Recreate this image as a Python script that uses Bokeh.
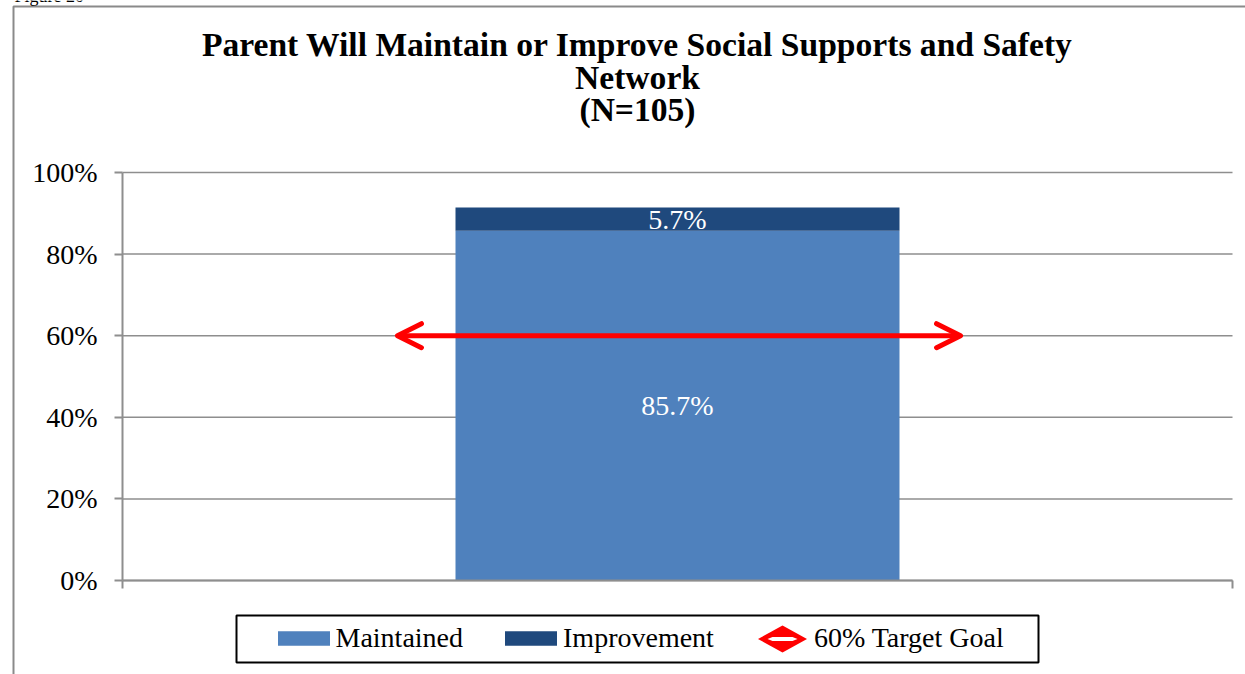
from bokeh.plotting import figure
from bokeh.models import (ColumnDataSource, Range1d, FixedTicker, Legend, LegendItem,
                          Arrow, OpenHead, Label, BoxAnnotation, PolyAnnotation)
from bokeh.embed import file_html
from bokeh.resources import INLINE
from bokeh.core.properties import value

# ---- data ----
title_lines = ["Parent Will Maintain or Improve Social Supports and Safety", "Network", "(N=105)"]
figure_caption = "Figure 20"
categories = ["Social Supports and Safety Network"]
series_names = ["Maintained", "Improvement"]
maintained = [85.7]
improvement = [5.7]
target_value = [60]
target_label = "60% Target Goal"
y_ticks = [0, 20, 40, 60, 80, 100]
y_tick_labels = ["0%", "20%", "40%", "60%", "80%", "100%"]
colors = ["#4F81BD", "#1F497D"]

SERIF = "Liberation Serif"
GRAY = "#8e8e8e"

# ---- layout (canvas px) ----
W, H = 1245, 674
PL, PT, PR, PB = 122, 172, 1232, 580   # plot area inside the chart
n = len(categories)
ppx = (PR - PL) / n          # px per category unit
ppy = (PB - PT) / 100.0      # px per percent

x_range = Range1d(-PL / ppx, n + (W - PR) / ppx)
y_range = Range1d(-(H - PB) / ppy, 100 + PT / ppy)

p = figure(width=W, height=H, x_range=x_range, y_range=y_range,
           output_backend="svg", toolbar_location=None, title=None,
           min_border=0, min_border_left=0, min_border_right=0, min_border_top=0, min_border_bottom=0)
p.background_fill_color = "white"
p.border_fill_color = "white"
p.outline_line_color = None
p.xgrid.visible = False
p.ygrid.visible = False

# gridlines at the y ticks across the plot area
gsrc = ColumnDataSource(dict(y=y_ticks, x0=[0] * len(y_ticks), x1=[n] * len(y_ticks)))
p.segment(x0="x0", x1="x1", y0="y", y1="y", source=gsrc, line_color=GRAY, line_width=1.5)

x = [i + 0.5 for i in range(n)]
src = ColumnDataSource(dict(x=x, Maintained=maintained, Improvement=improvement, cat=categories))
rs = p.vbar_stack(series_names, x="x", width=0.4, fill_color=colors, line_color=None, source=src)

# data labels
lx, ly, lt = [], [], []
for i in range(n):
    lx.append(x[i]); ly.append(maintained[i] / 2); lt.append(f"{maintained[i]}%")
    lx.append(x[i]); ly.append(maintained[i] + improvement[i] / 2); lt.append(f"{improvement[i]}%")
lsrc = ColumnDataSource(dict(x=lx, y=ly, text=lt))
p.text(x="x", y="y", text="text", source=lsrc, text_color="white", text_font=value(SERIF),
       text_font_size="28px", text_align="center", text_baseline="middle")

# target arrow
head = dict(size=24, line_color="#FF0000", line_width=5, line_cap="round", line_join="round")
p.add_layout(Arrow(start=OpenHead(**head), end=OpenHead(**head),
                   x_start=0.2477, x_end=0.755, y_start=target_value[0], y_end=target_value[0],
                   line_color="#FF0000", line_width=5))

# axes crossing at the plot-area corner
p.xaxis.fixed_location = 0
p.xaxis.bounds = (0, n)
p.xaxis.ticker = FixedTicker(ticks=[0, n])
p.xaxis.major_label_overrides = {0: "", n: ""}
p.xaxis.major_tick_out = 8
p.xaxis.major_tick_in = 0
p.xaxis.minor_tick_line_color = None
p.xaxis.axis_line_color = GRAY
p.xaxis.axis_line_width = 2
p.xaxis.major_tick_line_color = GRAY
p.xaxis.major_tick_line_width = 2

p.yaxis.fixed_location = 0
p.yaxis.bounds = (0, 100)
p.yaxis.ticker = FixedTicker(ticks=y_ticks)
p.yaxis.major_label_overrides = dict(zip(y_ticks, y_tick_labels))
p.yaxis.major_tick_out = 8
p.yaxis.major_tick_in = 0
p.yaxis.minor_tick_line_color = None
p.yaxis.axis_line_color = GRAY
p.yaxis.axis_line_width = 2
p.yaxis.major_tick_line_color = GRAY
p.yaxis.major_tick_line_width = 2
p.yaxis.major_label_standoff = 17
p.yaxis.major_label_text_font = SERIF
p.yaxis.major_label_text_font_size = "28px"
p.yaxis.major_label_text_color = "black"


def sx(cx):
    return cx


def sy(cy):
    return H - cy


SCR = dict(left_units="screen", right_units="screen", top_units="screen", bottom_units="screen")

# chart-area border (left and top edges visible)
p.add_layout(BoxAnnotation(left=sx(13), right=sx(W + 60), top=sy(6), bottom=sy(H + 60), **SCR,
                           fill_alpha=0, line_color="#8a8a8a", line_alpha=1, line_width=2))

# caption fragment above the chart
p.add_layout(Label(x=sx(14), y=sy(-5), x_units="screen", y_units="screen", text=figure_caption,
                   text_font=SERIF, text_font_size="18px", text_baseline="alphabetic", text_color="black"))

# title
for t, base in zip(title_lines, [57, 90, 122]):
    p.add_layout(Label(x=sx(637), y=sy(base - 13.5), x_units="screen", y_units="screen", text=t,
                       text_align="center", text_baseline="alphabetic", text_font=SERIF,
                       text_font_style="bold", text_font_size="33.6px", text_color="black"))

# legend frame
p.add_layout(BoxAnnotation(left=sx(236), right=sx(1038), top=sy(615), bottom=sy(662), **SCR,
                           fill_color="white", fill_alpha=1, line_color="black", line_alpha=1, line_width=2))

# target legend icon (double-headed arrow marker)
cx, cy = 782, 638.5
p.add_layout(PolyAnnotation(xs=[sx(cx + d) for d in [-24.5, 0, 24.5, 0]],
                            ys=[sy(cy + d) for d in [0, -13.5, 0, 13.5]],
                            xs_units="screen", ys_units="screen",
                            fill_color="#FF0000", fill_alpha=1, line_color=None, line_alpha=0))
p.add_layout(PolyAnnotation(xs=[sx(cx + d) for d in [-15, -10, 10, 15, 10, -10]],
                            ys=[sy(cy + d) for d in [0, -2, -2, 0, 2, 2]],
                            xs_units="screen", ys_units="screen",
                            fill_color="white", fill_alpha=1, line_color=None, line_alpha=0))

# legend
helper = p.line(x=[], y=[], line_alpha=0)
items = [LegendItem(label=series_names[0], renderers=[rs[0]]),
         LegendItem(label=series_names[1], renderers=[rs[1]]),
         LegendItem(label=target_label, renderers=[helper])]
legend = Legend(items=items, orientation="horizontal", location=(sx(270.5), sy(654)),
                glyph_width=65, glyph_height=18, label_standoff=0, spacing=35, padding=0, margin=0,
                border_line_color=None, background_fill_alpha=0,
                label_text_font=SERIF, label_text_font_size="28px", label_text_color="black")
p.add_layout(legend)

open("out.html", "w").write(file_html(p, INLINE))
